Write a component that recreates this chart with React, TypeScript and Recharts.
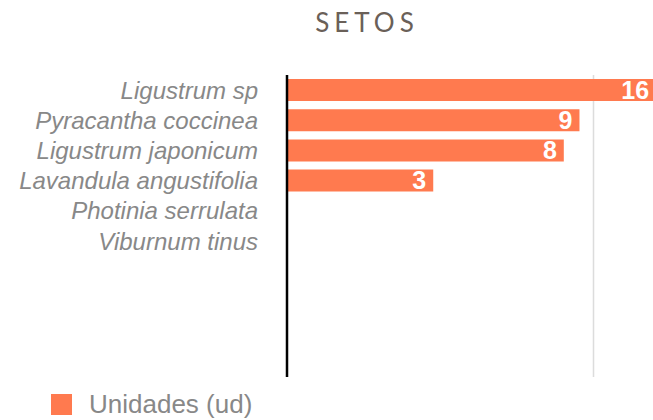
import { BarChart, Bar, XAxis, YAxis, CartesianGrid, LabelList } from 'recharts';

const categories = [
  'Ligustrum sp',
  'Pyracantha coccinea',
  'Ligustrum japonicum',
  'Lavandula angustifolia',
  'Photinia serrulata',
  'Viburnum tinus',
  '',
  '',
  '',
  '',
];
const units: (number | null)[] = [16, 9, 8, 3, null, null, null, null, null, null];
const xTicks = [1, 10, 100];

const BAR_COLOR = '#FF7A4F';
const FONT = '"Liberation Sans", Arial, sans-serif';

const chartData = categories.map((name, i) => ({ name, value: units[i] }));

function LegendBox() {
  return (
    <div
      style={{
        position: 'absolute',
        left: 51,
        top: 391,
        height: 26,
        display: 'flex',
        alignItems: 'center',
        fontFamily: FONT,
        fontSize: 26,
        lineHeight: '26px',
        color: '#888',
      }}
    >
      <div style={{ width: 21, height: 21, background: BAR_COLOR, marginRight: 17 }} />
      <span>Unidades (ud)</span>
    </div>
  );
}

export default function App() {
  return (
    <div
      style={{
        position: 'absolute',
        left: 0,
        top: 0,
        width: 653,
        height: 420,
        overflow: 'hidden',
        background: '#fff',
      }}
    >
      <div
        style={{
          position: 'absolute',
          left: 262,
          width: 200,
          top: 6,
          textAlign: 'center',
          fontFamily: 'Lato, sans-serif',
          fontSize: 26,
          letterSpacing: 5,
          color: '#6a6058',
          paddingLeft: 5,
        }}
      >
        SETOS
      </div>
      <BarChart
        width={920}
        height={420}
        data={chartData}
        layout="vertical"
        margin={{ top: 75, right: 20, bottom: 43, left: 0 }}
        barCategoryGap={4}
      >
        <CartesianGrid horizontal={false} stroke="#dcdcdc" strokeWidth={1.5} />
        <XAxis type="number" scale="log" domain={[1, 100]} ticks={xTicks} hide />
        <YAxis
          type="category"
          dataKey="name"
          width={287}
          axisLine={{ stroke: '#000', strokeWidth: 2.5 }}
          tickLine={false}
          tickSize={0}
          tickMargin={29}
          interval={0}
          tick={{ fontSize: 24, fontStyle: 'italic', fill: '#888', fontFamily: FONT }}
        />
        <Bar dataKey="value" fill={BAR_COLOR} barSize={22} isAnimationActive={false}>
          <LabelList
            dataKey="value"
            position="insideRight"
            offset={7}
            fill="#fff"
            style={{ fontSize: 25, fontWeight: 'bold', fontFamily: FONT }}
          />
        </Bar>
      </BarChart>
      <LegendBox />
    </div>
  );
}
